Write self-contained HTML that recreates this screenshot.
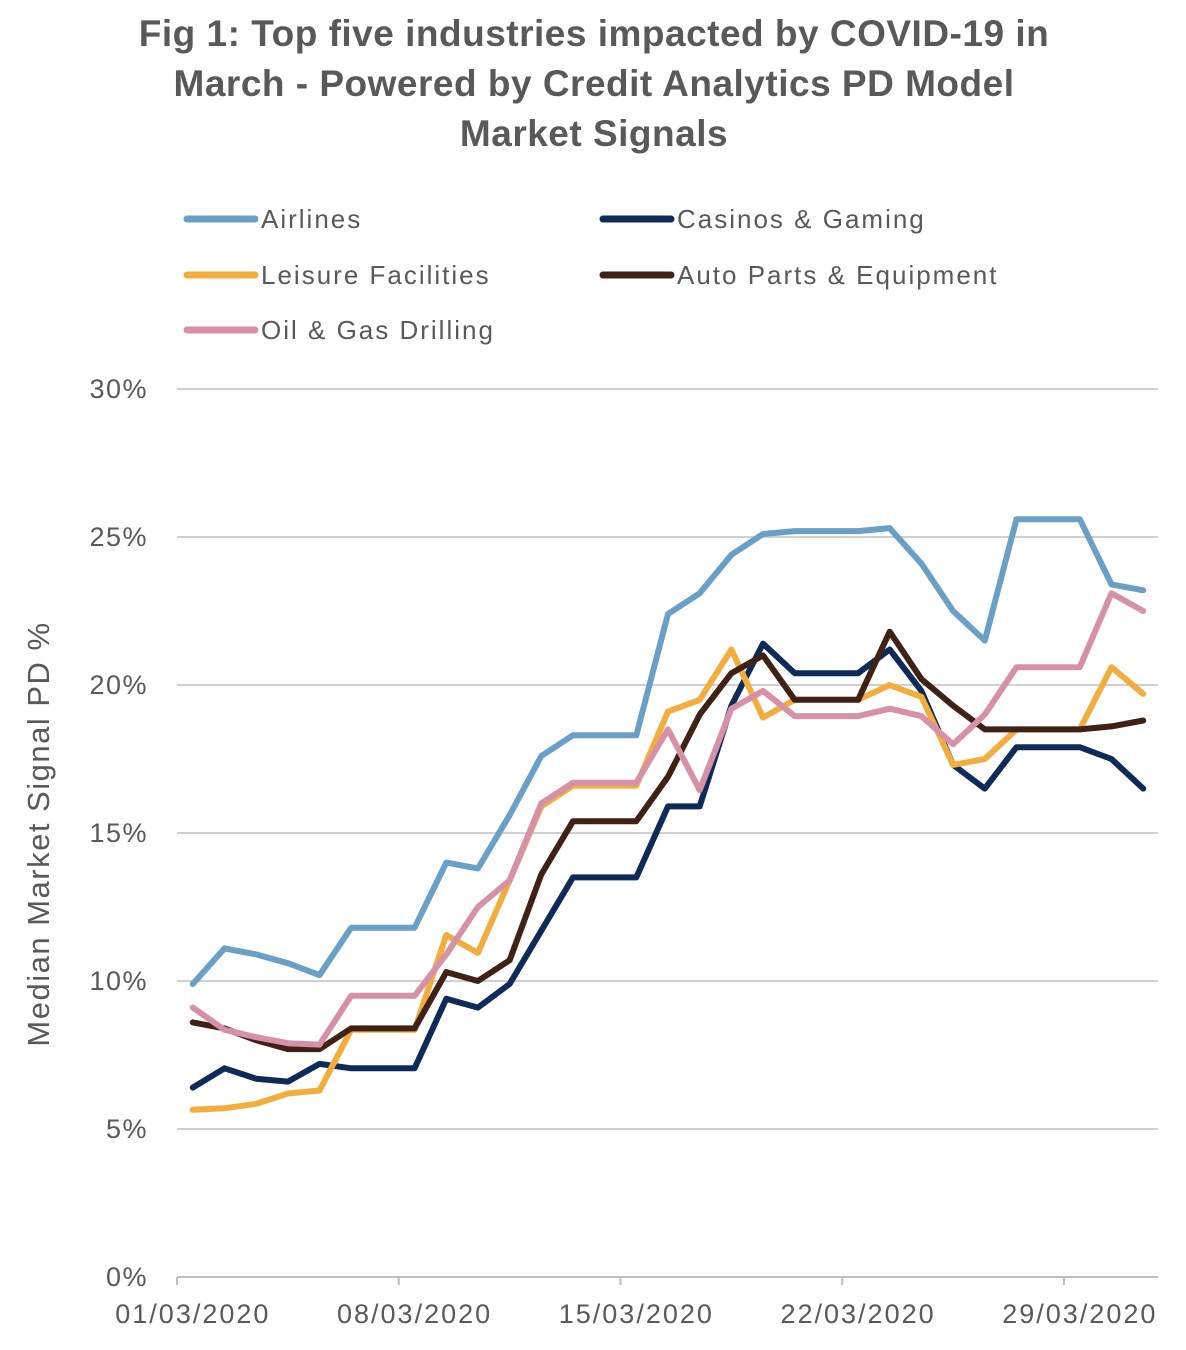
<!DOCTYPE html>
<html><head><meta charset="utf-8"><style>
body{margin:0;background:#fff;}
svg{display:block;font-family:"Liberation Sans",sans-serif;}
</style></head><body>
<svg width="1186" height="1350" viewBox="0 0 1186 1350">
<g id="title" fill="#595959" font-size="37" font-weight="bold" text-anchor="middle" letter-spacing="0.5">
<text x="594" y="46">Fig 1: Top five industries impacted by COVID-19 in</text>
<text x="594" y="96">March - Powered by Credit Analytics PD Model</text>
<text x="594" y="146">Market Signals</text>
</g>
<g id="legend"></g>
<g id="grid"></g>
<g id="axes"></g>
<g id="series"></g>
<text transform="translate(49,834) rotate(-90)" text-anchor="middle" font-size="31" letter-spacing="1.5" fill="#595959">Median Market Signal PD %</text>
</svg>
<script>
const categories = Array.from({length:31},(_,i)=>String(i+1).padStart(2,'0')+'/03/2020');
const seriesNames = ['Airlines','Casinos & Gaming','Leisure Facilities','Auto Parts & Equipment','Oil & Gas Drilling'];
const airlines = [9.9,11.1,10.9,10.6,10.2,11.8,11.8,11.8,14.0,13.8,15.6,17.6,18.3,18.3,18.3,22.4,23.1,24.4,25.1,25.2,25.2,25.2,25.3,24.1,22.5,21.5,25.6,25.6,25.6,23.4,23.2];
const casinos = [6.4,7.05,6.7,6.6,7.2,7.05,7.05,7.05,9.4,9.1,9.9,11.7,13.5,13.5,13.5,15.9,15.9,19.3,21.4,20.4,20.4,20.4,21.2,19.8,17.3,16.5,17.9,17.9,17.9,17.5,16.5];
const leisure = [5.65,5.7,5.85,6.2,6.3,8.35,8.35,8.35,11.55,10.95,13.4,15.9,16.6,16.6,16.6,19.1,19.5,21.2,18.9,19.5,19.5,19.5,20.0,19.6,17.3,17.5,18.5,18.5,18.5,20.6,19.7];
const autoParts = [8.6,8.4,8.0,7.7,7.7,8.4,8.4,8.4,10.3,10.0,10.7,13.6,15.4,15.4,15.4,16.9,19.0,20.4,21.0,19.5,19.5,19.5,21.8,20.2,19.3,18.5,18.5,18.5,18.5,18.6,18.8];
const oilGas = [9.1,8.35,8.1,7.9,7.85,9.5,9.5,9.5,10.9,12.5,13.4,16.0,16.7,16.7,16.7,18.5,16.45,19.2,19.8,18.95,18.95,18.95,19.2,18.95,18.0,19.0,20.6,20.6,20.6,23.1,22.5];
const yTicks = [0,5,10,15,20,25,30];
const xTickLabels = ['01/03/2020','08/03/2020','15/03/2020','22/03/2020','29/03/2020'];

const NS='http://www.w3.org/2000/svg';
const colors=['#6a9fc7','#0e2a58','#f2ad3c','#3f2116','#d690a8'];
const data=[airlines,casinos,leisure,autoParts,oilGas];
const x0=177,x1=1159,yb=1277,yt=389;
const step=(x1-x0)/categories.length;
const xs=i=>x0+step*(i+0.5);
const ys=v=>yb-(v/30)*(yb-yt);
function mk(tag,attrs,parent){const e=document.createElementNS(NS,tag);for(const k in attrs)e.setAttribute(k,attrs[k]);parent.appendChild(e);return e;}
const grid=document.getElementById('grid');
yTicks.forEach(t=>{
  const l=mk('line',{x1:x0,x2:1158,y1:ys(t),y2:ys(t),stroke:'#d0d0d0','stroke-width':2},grid);
  
  
  const tx=mk('text',{x:148,y:ys(t)+9,'text-anchor':'end','font-size':27,'letter-spacing':1.5,fill:'#595959'},grid);
  tx.textContent=t+'%';
  
  
});
const axes=document.getElementById('axes');
const ax=mk('line',{x1:x0,x2:1158,y1:yb,y2:yb,stroke:'#bfbfbf','stroke-width':2},axes);


xTickLabels.forEach((lab,k)=>{
  const i=k*7;
  const tk=mk('line',{x1:x0+step*i,x2:x0+step*i,y1:yb,y2:yb+8,stroke:'#bfbfbf','stroke-width':2},axes);
  
  
  const tx=mk('text',{x:xs(i)+0,y:1323,'text-anchor':'middle','font-size':27,'letter-spacing':2,fill:'#595959'},axes);
  tx.textContent=lab;
  
  
});
const sg=document.getElementById('series');
data.forEach((arr,s)=>{
  const pts=arr.map((v,i)=>xs(i).toFixed(1)+','+ys(v).toFixed(1)).join(' ');
  const p=mk('polyline',{points:pts,fill:'none',stroke:colors[s],'stroke-width':6,'stroke-linejoin':'round','stroke-linecap':'round'},sg);
  
  
});
const lg=document.getElementById('legend');
const lpos=[[187,219],[603,219],[187,275],[603,275],[187,330]];
seriesNames.forEach((n,s)=>{
  const [lx,ly]=lpos[s];
  const g=mk('g',{},lg);
  
  
  mk('line',{x1:lx,x2:lx+68,y1:ly,y2:ly,stroke:colors[s],'stroke-width':7,'stroke-linecap':'round'},g);
  const t=mk('text',{x:lx+74,y:ly+9,'font-size':26,'letter-spacing':2,fill:'#595959'},g);
  t.textContent=n;
});
</script>
</body></html>
